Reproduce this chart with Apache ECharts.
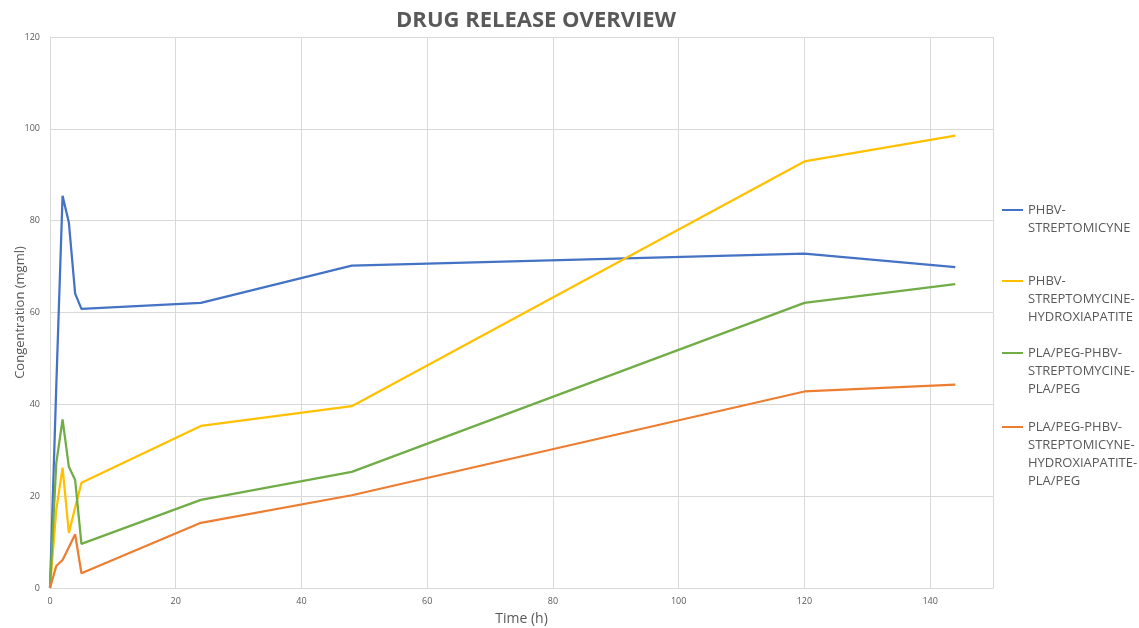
<!DOCTYPE html>
<html>
<head>
<meta charset="utf-8">
<script src="https://cdn.jsdelivr.net/npm/echarts@6/dist/echarts.min.js"></script>
<style>
  html, body { margin: 0; padding: 0; background: #ffffff; }
  #chart { width: 1139px; height: 628px; }
</style>
</head>
<body>
<div id="chart"></div>
<script>
// Sampling times (hours)
const timeHours = [0, 1, 2, 3, 4, 5, 24, 48, 120, 144];

// Series names (wrapped as shown in the legend)
const seriesNames = [
  'PHBV-\nSTREPTOMICYNE',
  'PHBV-\nSTREPTOMYCINE-\nHYDROXIAPATITE',
  'PLA/PEG-PHBV-\nSTREPTOMYCINE-\nPLA/PEG',
  'PLA/PEG-PHBV-\nSTREPTOMICYNE-\nHYDROXIAPATITE-\nPLA/PEG'
];

// Concentration values (mgml)
const phbvStrep        = [0, 44.0, 85.4, 79.6, 64.1, 60.8, 62.1, 70.2, 72.8, 69.9];
const phbvStrepHap     = [0, 17.0, 26.2, 12.0, 17.5, 22.9, 35.3, 39.6, 92.9, 98.5];
const plaPhbvStrep     = [0, 27.2, 36.7, 26.4, 23.5, 9.6, 19.2, 25.3, 62.1, 66.2];
const plaPhbvStrepHap  = [0, 4.8, 6.1, 8.9, 11.7, 3.2, 14.2, 20.2, 42.8, 44.3];

const seriesValues = [phbvStrep, phbvStrepHap, plaPhbvStrep, plaPhbvStrepHap];
const seriesColors = ['#4472C4', '#FFC000', '#70AD47', '#ED7D31'];

const TEXT = '#595959';
const GRID = '#d9d9d9';
const FONT = '"Open Sans", "Noto Sans", sans-serif';
const LINE_H = 18;

function pairs(vals) {
  return timeHours.map((t, i) => [t, vals[i]]);
}

// One legend block per series; blank lines above the name keep the
// line icon level with the first text line.
const legendIconY = [210, 281, 353, 427];
const legends = seriesNames.map((name, i) => {
  const lines = name.split('\n').length;
  const blank = lines - 1;
  const boxH = (lines + blank) * LINE_H;
  return {
    data: [name],
    orient: 'vertical',
    left: 1002,
    top: legendIconY[i] - boxH / 2,
    padding: 0,
    itemWidth: 21,
    itemHeight: 10,
    selectedMode: false,
    icon: 'path://M0,0 L21,0 L21,2 L0,2 Z',
    formatter: function (n) { return '\n'.repeat(blank) + n; },
    textStyle: {
      color: TEXT,
      fontFamily: FONT,
      fontSize: 13,
      lineHeight: LINE_H
    }
  };
});

const chart = echarts.init(document.getElementById('chart'), null, { renderer: 'canvas' });

chart.setOption({
  backgroundColor: '#ffffff',
  animation: false,
  title: {
    text: 'DRUG RELEASE OVERVIEW',
    left: 531,
    textAlign: 'center',
    top: 5,
    textStyle: { color: TEXT, fontFamily: FONT, fontSize: 22, fontWeight: 'bold' }
  },
  legend: legends,
  grid: { left: 50, right: 146, top: 37, bottom: 40, containLabel: false, outerBoundsMode: 'none' },
  xAxis: {
    type: 'value',
    min: 0,
    max: 150,
    interval: 20,
    name: 'Time (h)',
    nameLocation: 'middle',
    nameGap: 24,
    nameMoveOverlap: false,
    nameTextStyle: { color: TEXT, fontFamily: FONT, fontSize: 14 },
    axisLine: { show: true, lineStyle: { color: GRID, width: 1 } },
    axisTick: { show: false },
    axisLabel: { color: TEXT, fontFamily: FONT, fontSize: 9, margin: 9, showMaxLabel: false },
    splitLine: { show: true, lineStyle: { color: GRID, width: 1 } }
  },
  yAxis: {
    type: 'value',
    min: 0,
    max: 120,
    interval: 20,
    name: 'Congentration (mgml)',
    nameLocation: 'middle',
    nameGap: 23,
    nameMoveOverlap: false,
    nameTextStyle: { color: TEXT, fontFamily: FONT, fontSize: 13 },
    axisLine: { show: true, lineStyle: { color: GRID, width: 1 } },
    axisTick: { show: false },
    axisLabel: { color: TEXT, fontFamily: FONT, fontSize: 9, margin: 10 },
    splitLine: { show: true, lineStyle: { color: GRID, width: 1 } }
  },
  series: seriesNames.map((name, i) => ({
    name: name,
    type: 'line',
    data: pairs(seriesValues[i]),
    showSymbol: false,
    symbol: 'none',
    color: seriesColors[i],
    lineStyle: { color: seriesColors[i], width: 2.25 }
  }))
});
</script>
</body>
</html>
